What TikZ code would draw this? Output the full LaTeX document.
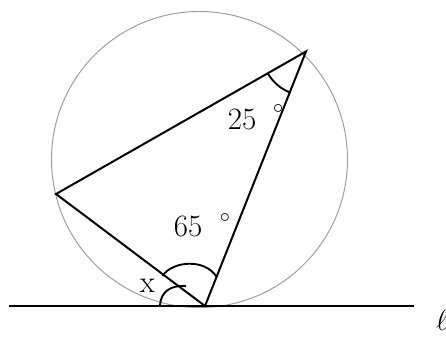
\documentclass[tikz,border=0pt]{standalone}
\usepackage{amsmath,amssymb}
\usepackage{xcolor}
\usepackage{tikz}
\usetikzlibrary{calc}
\definecolor{circc}{HTML}{9A9A9A}

\begin{document}
\begin{tikzpicture}[x=0.03cm, y=-0.03cm, font=\fontsize{26.5}{32}\selectfont,
  edge/.style={line width=1.7pt, black},
  anglearc/.style={line width=1.6pt, black},
  degsym/.style={inner sep=0pt, font=\fontsize{16}{18}\selectfont}]
  \useasboundingbox (0,0) rectangle (446,338);
  \coordinate (O) at (199.5,159.5);
  \draw[circc, line width=0.8pt] (O) circle[radius=148];
  \coordinate (A) at (306,51.5);
  \coordinate (B) at (56,194);
  \coordinate (C) at (205,306);
  \coordinate (L1) at (9,306);
  \coordinate (L2) at (414,306);
  \draw[line width=1.9pt] (L1) -- (L2);
  \draw[edge] (A) -- (B) -- (C) -- cycle;
  % angle marks
  \draw[anglearc] (267.8,73.3) .. controls (272.8,82.0) and (280.5,88.7) .. (289.8,92.4);
  \draw[anglearc] (162.5,276) .. controls (172,261) and (205,258) .. (216.6,277);
  \draw[anglearc] (160,305) .. controls (161,292) and (170,285) .. (186,286);
  \node (n25) at (242,119) {25};
  \node[degsym] (d25) at (278.3,109.3) {$\circ$};
  \node (n65) at (188,226.5) {65};
  \node[degsym] (d65) at (225,217.7) {$\circ$};
  \node (nx) at (147.5,286) {x};
  \node (nl) at (442,320) {$\ell$};
\end{tikzpicture}
\end{document}
